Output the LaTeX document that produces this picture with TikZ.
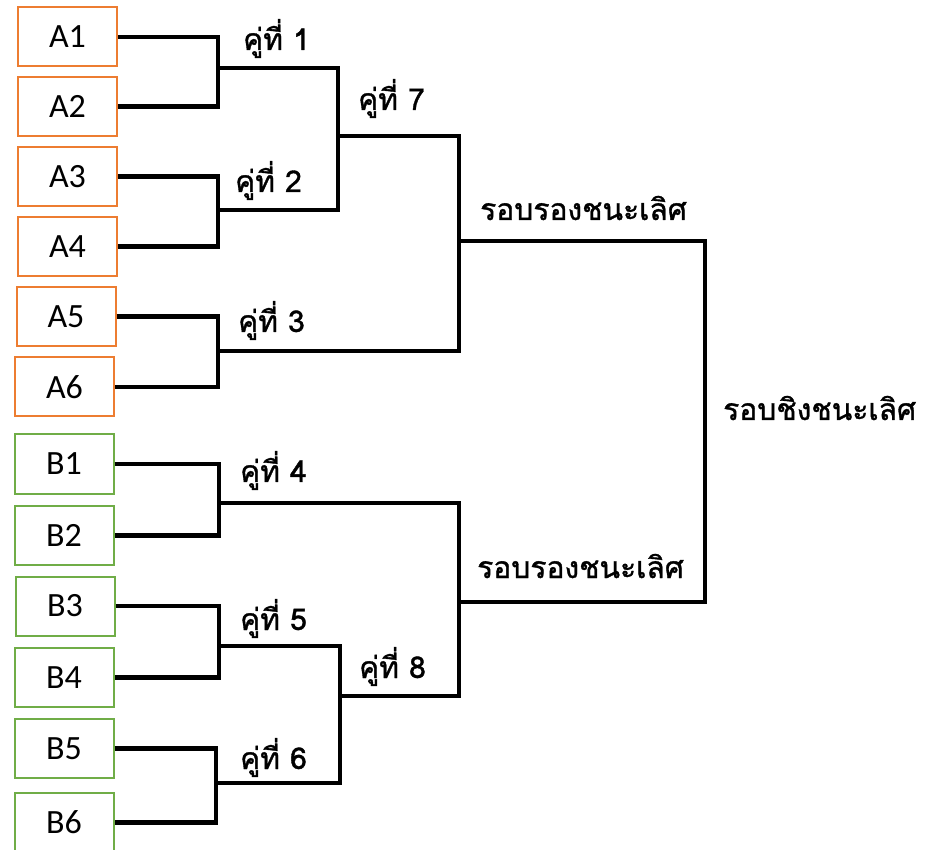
\documentclass[tikz,border=0pt]{standalone}
\usepackage{fontspec}
\setmainfont{Carlito}
\newfontfamily\thaifont[Script=Thai, FakeBold=1.2]{Loma}
\usetikzlibrary{positioning}
\definecolor{grouporange}{RGB}{237,125,49}
\definecolor{groupgreen}{RGB}{112,173,71}

\begin{document}
\begin{tikzpicture}[x=1pt, y=-1pt,
  team/.style={draw, line width=2pt, minimum width=99pt, minimum height=59pt, inner sep=0pt, font=\fontsize{34}{34}\selectfont},
  teamA/.style={team, draw=grouporange},
  teamB/.style={team, draw=groupgreen},
  matchlbl/.style={anchor=base west, inner sep=0pt, font=\thaifont\fontsize{30}{30}\selectfont},
  link/.style={line width=4.5pt}]
  \useasboundingbox (0,0) rectangle (938,850);

  % Group A boxes
  \foreach \i/\x/\y in {1/67.5/37, 2/67.5/106.5, 3/67.5/176.5, 4/67.5/246.5, 5/66/316.5, 6/64.5/387} {
    \node[teamA] (a\i) at (\x,\y) {A\i};
  }
  % Group B boxes
  \foreach \i/\x/\y in {1/64/464, 2/64/535.5, 3/65/606, 4/64/677.5, 5/64/748.5, 6/64/822.5} {
    \node[teamB] (b\i) at (\x,\y) {B\i};
  }

  % Junctions
  \coordinate (m1) at (218,68);
  \coordinate (m2) at (218,210);
  \coordinate (m3) at (218,351);
  \coordinate (m4) at (219,503);
  \coordinate (m5) at (219,646);
  \coordinate (m6) at (216,783);
  \coordinate (m7) at (338,136);
  \coordinate (m8) at (340,696);
  \coordinate (s1) at (459,241);
  \coordinate (s2) at (459,602);
  \coordinate (fin) at (705,421);

  % First round
  \draw[link] (a1.east) -| (m1) |- (a2.east);
  \draw[link] (a3.east) -| (m2) |- (a4.east);
  \draw[link] (a5.east) -| (m3) |- (a6.east);
  \draw[link] (b1.east) -| (m4) |- (b2.east);
  \draw[link] (b3.east) -| (m5) |- (b4.east);
  \draw[link] (b5.east) -| (m6) |- (b6.east);

  % Second round
  \draw[link] (m1) -| (m7) |- (m2);
  \draw[link] (m5) -| (m8) |- (m6);

  % Semi-finals and final
  \draw[link] (m7) -| (s1) |- (m3);
  \draw[link] (m4) -| (s2) |- (m8);
  \draw[link] (s1) -| (fin) |- (s2);

  % Labels
  \node[matchlbl] (p1) at (243,50) {คู่ที่ 1};
  \node[matchlbl] (p2) at (235,192) {คู่ที่ 2};
  \node[matchlbl] (p3) at (238,332) {คู่ที่ 3};
  \node[matchlbl] (p4) at (240,482) {คู่ที่ 4};
  \node[matchlbl] (p5) at (240,630) {คู่ที่ 5};
  \node[matchlbl] (p6) at (240,769) {คู่ที่ 6};
  \node[matchlbl] (p7) at (358,110) {คู่ที่ 7};
  \node[matchlbl] (p8) at (359,678) {คู่ที่ 8};
  \node[matchlbl] (semi1) at (480,220) {รอบรองชนะเลิศ};
  \node[matchlbl] (semi2) at (477,578) {รอบรองชนะเลิศ};
  \node[matchlbl] (final) at (723,420) {รอบชิงชนะเลิศ};
\end{tikzpicture}
\end{document}
